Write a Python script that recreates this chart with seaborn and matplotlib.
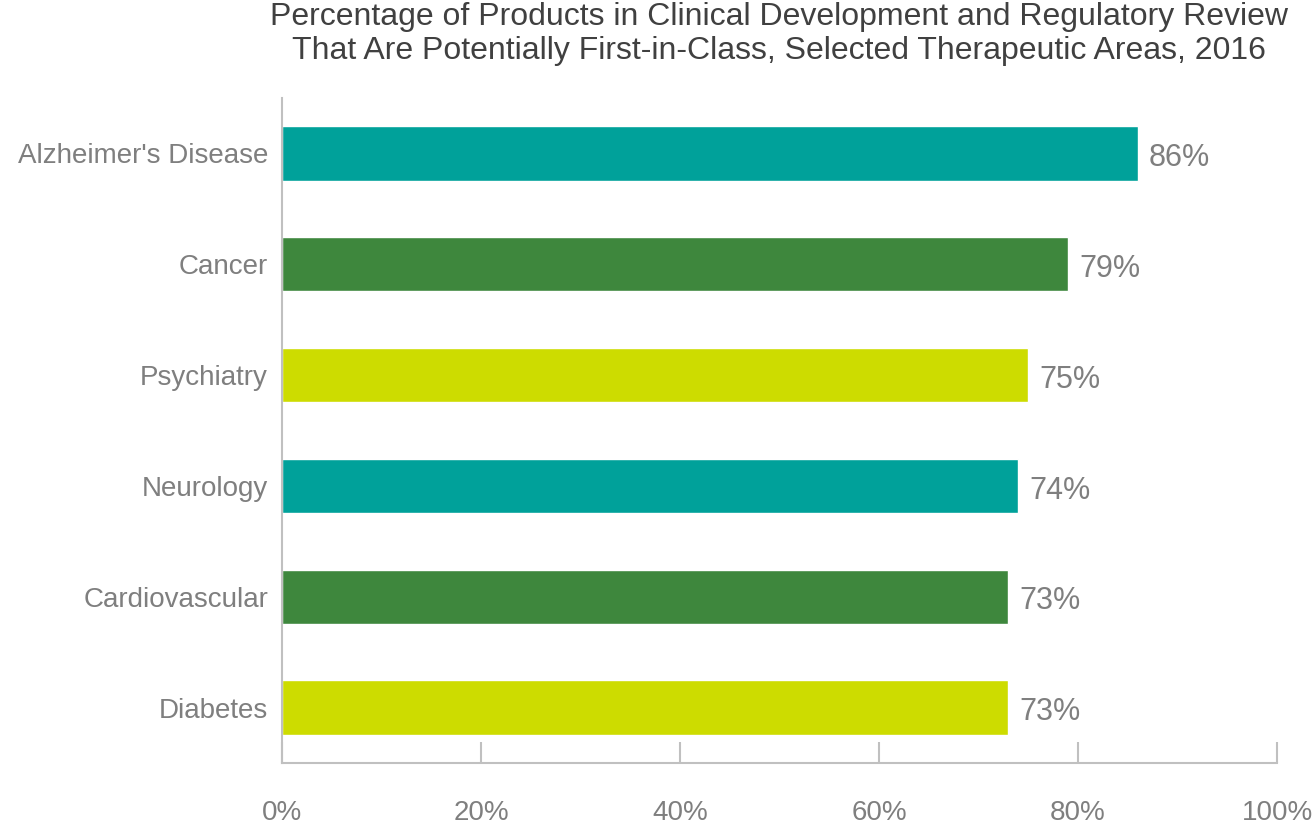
import matplotlib
matplotlib.use("Agg")
import matplotlib.pyplot as plt
import seaborn as sns
import pandas as pd

areas = ["Alzheimer's Disease", "Cancer", "Psychiatry", "Neurology", "Cardiovascular", "Diabetes"]
share = [86, 79, 75, 74, 73, 73]
bar_colors = ["#00A19A", "#3E873D", "#CDDC00", "#00A19A", "#3E873D", "#CDDC00"]
xticks = [0, 20, 40, 60, 80, 100]
title = ("Percentage of Products in Clinical Development and Regulatory Review\n"
         "That Are Potentially First-in-Class, Selected Therapeutic Areas, 2016")

df = pd.DataFrame({"area": areas, "share": share})

sns.set_theme(style="white")
plt.rcParams["font.family"] = ["Liberation Sans", "DejaVu Sans"]

fig = plt.figure(figsize=(13.12, 8.25), dpi=100)
ax = fig.add_axes([282 / 1312, 1 - 763 / 825, (1277 - 282) / 1312, (763 - 98) / 825])

sns.barplot(data=df, x="share", y="area", hue="area", palette=bar_colors,
            legend=False, width=0.49, orient="h", ax=ax, saturation=1)

ax.set_xlim(0, 100)
ax.set_ylim(5.5, -0.5)
ax.set_xlabel("")
ax.set_ylabel("")

label_grey = "#7f7f7f"
axis_grey = "#c0c0c0"

ax.set_xticks(xticks)
ax.set_xticklabels([f"{v}%" for v in xticks], fontsize=20, color=label_grey)
ax.tick_params(axis="x", direction="in", length=15, width=1.5, color=axis_grey,
               pad=27, bottom=True)
ax.tick_params(axis="y", length=0, pad=10, labelsize=20, labelcolor=label_grey)

for side in ["top", "right"]:
    ax.spines[side].set_visible(False)
for side in ["left", "bottom"]:
    ax.spines[side].set_color(axis_grey)
    ax.spines[side].set_linewidth(1.5)

for i, v in enumerate(share):
    ax.text(v + 1.1, i + 0.01, f"{v}%", va="center_baseline", ha="left",
            fontsize=22, color=label_grey)

fig.text(779 / 1312, 1 - 34 / 825, title, ha="center", va="center",
         fontsize=23, color="#404040", linespacing=1.2)

fig.savefig("out.png", dpi=100)
